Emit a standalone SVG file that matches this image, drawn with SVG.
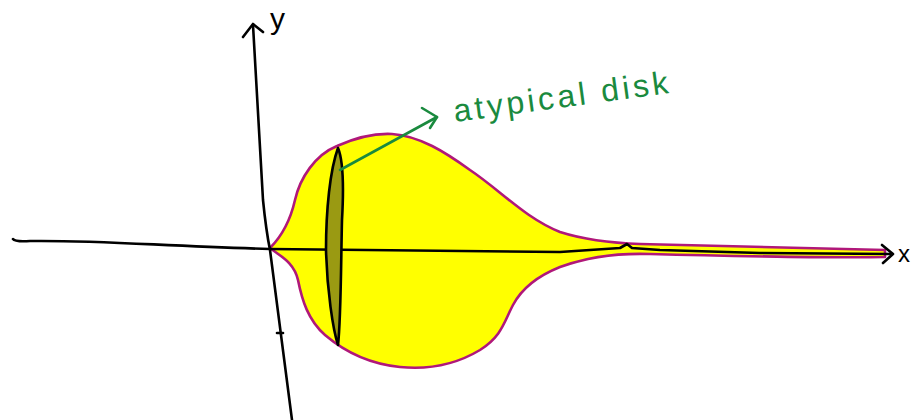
<svg xmlns="http://www.w3.org/2000/svg" width="918" height="420" viewBox="0 0 918 420">
<style>
.ink{fill:none;stroke:#000;stroke-width:2.6;stroke-linecap:round;stroke-linejoin:round}
.green{fill:none;stroke:#1a8a3e;stroke-width:2.6;stroke-linecap:round;stroke-linejoin:round}
.lbl{font-family:"Liberation Sans",Arial,sans-serif;fill:#000}
.note{font-family:"Liberation Sans",Arial,sans-serif;fill:#1a8a3e}
</style>
<rect width="918" height="420" fill="#fff"/>
<g id="region">
<path d="M270,248 C280,238 290,222 295,200 C300,178 315,155 337,146 C355,138 372,133 392,134 C420,136 445,152 470,170 C500,190 525,218 560,232 C585,240 610,243 640,244 C760,247 840,249 885,250 L885,257 C840,258 720,256 650,254 C620,253 590,256 560,267 C540,275 522,288 513,305 C504,322 502,336 480,350 C455,365 430,370 400,367 C370,364 345,352 325,335 C308,320 302,300 298,280 C294,262 280,256 270,248 Z" fill="#ffff00" stroke="#b0187a" stroke-width="2.6" stroke-linejoin="round"/>
</g>
<g id="axes">
<path class="ink" d="M13,239 Q15,242 30,241 C100,240 160,246 270,249 L560,252 L620,248 L627,244 L632,248 L660,250 L760,253 L890,254"/>
<path class="ink" d="M882,245 L893,254 L883,263"/>
<path class="ink" d="M253,25 L263,200 Q266,230 270,250 L292,420"/>
<path class="ink" d="M243,37 L253,24 L263,32"/>
<path class="ink" d="M277,333 L283,333" stroke-width="2"/>
<text class="lbl" x="270" y="29" font-size="30">y</text>
<text class="lbl" x="898" y="262" font-size="24">x</text>
</g>
<g id="disk">
<path d="M338,148 C343,160 344,185 342,220 C341,260 341,320 338,345 C333,330 327,290 326,250 C326,210 330,170 338,148 Z" fill="#9a9a12" stroke="#000" stroke-width="2.6" stroke-linejoin="round"/>
</g>
<g id="connectors">
<path class="green" d="M340,170 L437,117"/>
<path class="green" d="M422,108 L437,117 L430,128"/>
</g>
<g id="label">
<text class="note" x="455" y="122" font-size="32" letter-spacing="3.5" transform="rotate(-7.7 455 122)">atypical disk</text>
</g>
</svg>
